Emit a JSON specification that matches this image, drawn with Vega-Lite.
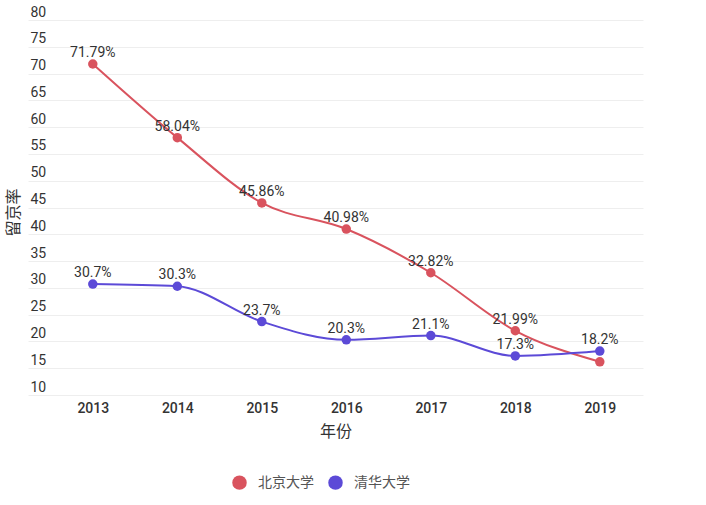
{
  "$schema": "https://vega.github.io/schema/vega-lite/v6.json",
  "width": 615,
  "height": 375,
  "autosize": {"type": "none"},
  "padding": {"left": 28, "top": 20, "right": 63, "bottom": 110},
  "background": "white",
  "config": {
    "view": {"stroke": null},
    "font": "Roboto",
    "axis": {"labelFont": "Roboto", "titleFont": "Noto Sans CJK SC"}
  },
  "data": {
    "values": [
      {"year": "2013", "school": "北京大学", "rate": 71.79, "label": "71.79%"},
      {"year": "2014", "school": "北京大学", "rate": 58.04, "label": "58.04%"},
      {"year": "2015", "school": "北京大学", "rate": 45.86, "label": "45.86%"},
      {"year": "2016", "school": "北京大学", "rate": 40.98, "label": "40.98%"},
      {"year": "2017", "school": "北京大学", "rate": 32.82, "label": "32.82%"},
      {"year": "2018", "school": "北京大学", "rate": 21.99, "label": "21.99%"},
      {"year": "2019", "school": "北京大学", "rate": 16.2, "label": ""},
      {"year": "2013", "school": "清华大学", "rate": 30.7, "label": "30.7%"},
      {"year": "2014", "school": "清华大学", "rate": 30.3, "label": "30.3%"},
      {"year": "2015", "school": "清华大学", "rate": 23.7, "label": "23.7%"},
      {"year": "2016", "school": "清华大学", "rate": 20.3, "label": "20.3%"},
      {"year": "2017", "school": "清华大学", "rate": 21.1, "label": "21.1%"},
      {"year": "2018", "school": "清华大学", "rate": 17.3, "label": "17.3%"},
      {"year": "2019", "school": "清华大学", "rate": 18.2, "label": "18.2%"}
    ]
  },
  "encoding": {
    "x": {
      "field": "year",
      "type": "ordinal",
      "scale": {"type": "point", "padding": 0.639, "align": 0.6},
      "axis": {
        "title": "年份",
        "labelAngle": 0,
        "domain": false,
        "ticks": false,
        "grid": false,
        "labelPadding": 6,
        "labelFontSize": 14,
        "labelFontWeight": 500,
        "labelColor": "#333333",
        "titleFontSize": 16,
        "titleFontWeight": "normal",
        "titleColor": "#333333",
        "titlePadding": 8
      }
    },
    "y": {
      "field": "rate",
      "type": "quantitative",
      "scale": {"domain": [10, 80], "nice": false, "zero": false},
      "axis": {
        "title": "留京率",
        "values": [10, 15, 20, 25, 30, 35, 40, 45, 50, 55, 60, 65, 70, 75, 80],
        "domain": false,
        "ticks": false,
        "grid": true,
        "gridColor": "#eeeeee",
        "gridWidth": 1,
        "labelAlign": "left",
        "labelBaseline": "bottom",
        "labelOffset": -1,
        "labelPadding": -2,
        "labelFontSize": 14,
        "labelFontWeight": "normal",
        "labelColor": "#333333",
        "titleFontSize": 16,
        "titleFontWeight": "normal",
        "titleColor": "#333333",
        "titleX": -15,
        "titleY": 192,
        "titleAlign": "center",
        "titleBaseline": "middle"
      }
    },
    "color": {
      "field": "school",
      "type": "nominal",
      "scale": {"domain": ["北京大学", "清华大学"], "range": ["#d9535e", "#5c4ad7"]},
      "legend": {
        "title": null,
        "orient": "none",
        "direction": "horizontal",
        "legendX": 204,
        "legendY": 455,
        "symbolType": "circle",
        "symbolSize": 210,
        "symbolOpacity": 1,
        "symbolStrokeWidth": 0,
        "labelFont": "Noto Sans CJK SC",
        "labelFontSize": 14,
        "labelColor": "#555555",
        "labelOffset": 11,
        "columnPadding": 14
      }
    }
  },
  "layer": [
    {
      "mark": {"type": "line", "interpolate": "monotone", "strokeWidth": 2}
    },
    {
      "mark": {"type": "point", "filled": true, "size": 90, "opacity": 1}
    },
    {
      "mark": {"type": "text", "dy": -11, "fontSize": 14, "color": "#333333", "font": "Roboto"},
      "encoding": {"text": {"field": "label"}, "color": {"value": "#333333"}}
    }
  ]
}
